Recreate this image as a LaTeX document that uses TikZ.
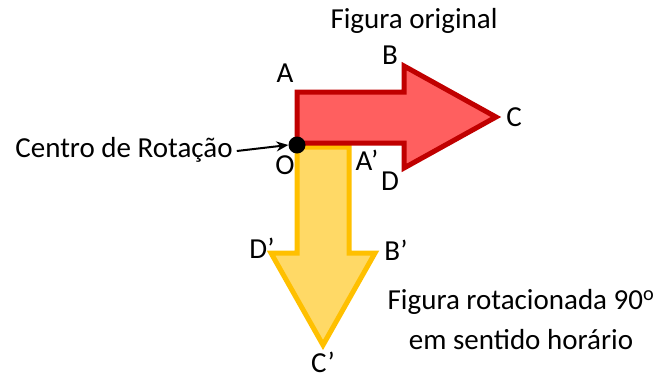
\documentclass[tikz,border=0pt]{standalone}
\usepackage{fontspec}
\setmainfont{Carlito}
\usetikzlibrary{arrows.meta}
\definecolor{redfill}{HTML}{FF5F5F}
\definecolor{redline}{HTML}{C00000}
\definecolor{yelfill}{HTML}{FFD966}
\definecolor{yelline}{HTML}{FFC000}
\begin{document}
\begin{tikzpicture}[x=1pt,y=-1pt,
  lbl/.style={font=\fontsize{29}{33}\selectfont, inner sep=0pt},
  redshape/.style={fill=redfill, draw=redline, line width=5pt, line join=miter},
  yelshape/.style={fill=yelfill, draw=yelline, line width=5pt, line join=miter}]
\useasboundingbox (0,0) rectangle (657,378);
% rotated (yellow) figure
\draw[yelshape] (297,147) coordinate (Oy) -- (349,147) coordinate (Ap) -- (349,253) -- (375,253) coordinate (Bp)
  -- (323,345) coordinate (Cp) -- (271,253) coordinate (Dp) -- (297,253) -- cycle;
% original (red) figure
\draw[redshape] (297,143) coordinate (Or) -- (297,92) coordinate (A) -- (404,92) -- (404,66) coordinate (B)
  -- (496,117) coordinate (C) -- (404,168) coordinate (D) -- (404,143) -- cycle;
% centre of rotation
\fill (297,145) circle (8.5) node (dot) [circle, minimum size=17pt, inner sep=0pt] {};
\node[lbl] (centro) at (124,150) {Centro de Rotação};
\draw[line width=2pt, -{Stealth[length=12pt,width=10pt]}] (centro.east) ++(4,1) coordinate (cs) -- (dot.west);
% labels
\node[lbl] (title) at (414,21) {Figura original};
\node[lbl] (lA) at (285,73) {A};
\node[lbl] (lB) at (390,55) {B};
\node[lbl] (lC) at (514,117) {C};
\node[lbl] (lO) at (285,165) {O};
\node[lbl] (lAp) at (367,160) {A’};
\node[lbl] (lD) at (390,181) {D};
\node[lbl] (lDp) at (262,248) {D’};
\node[lbl] (lBp) at (396,250) {B’};
\node[lbl] (lCp) at (323,362) {C’};
\node[lbl, align=center, font=\fontsize{29}{40}\selectfont] (desc) at (521,320) {Figura rotacionada 90\textsuperscript{o}\\em sentido horário};
\end{tikzpicture}
\end{document}
